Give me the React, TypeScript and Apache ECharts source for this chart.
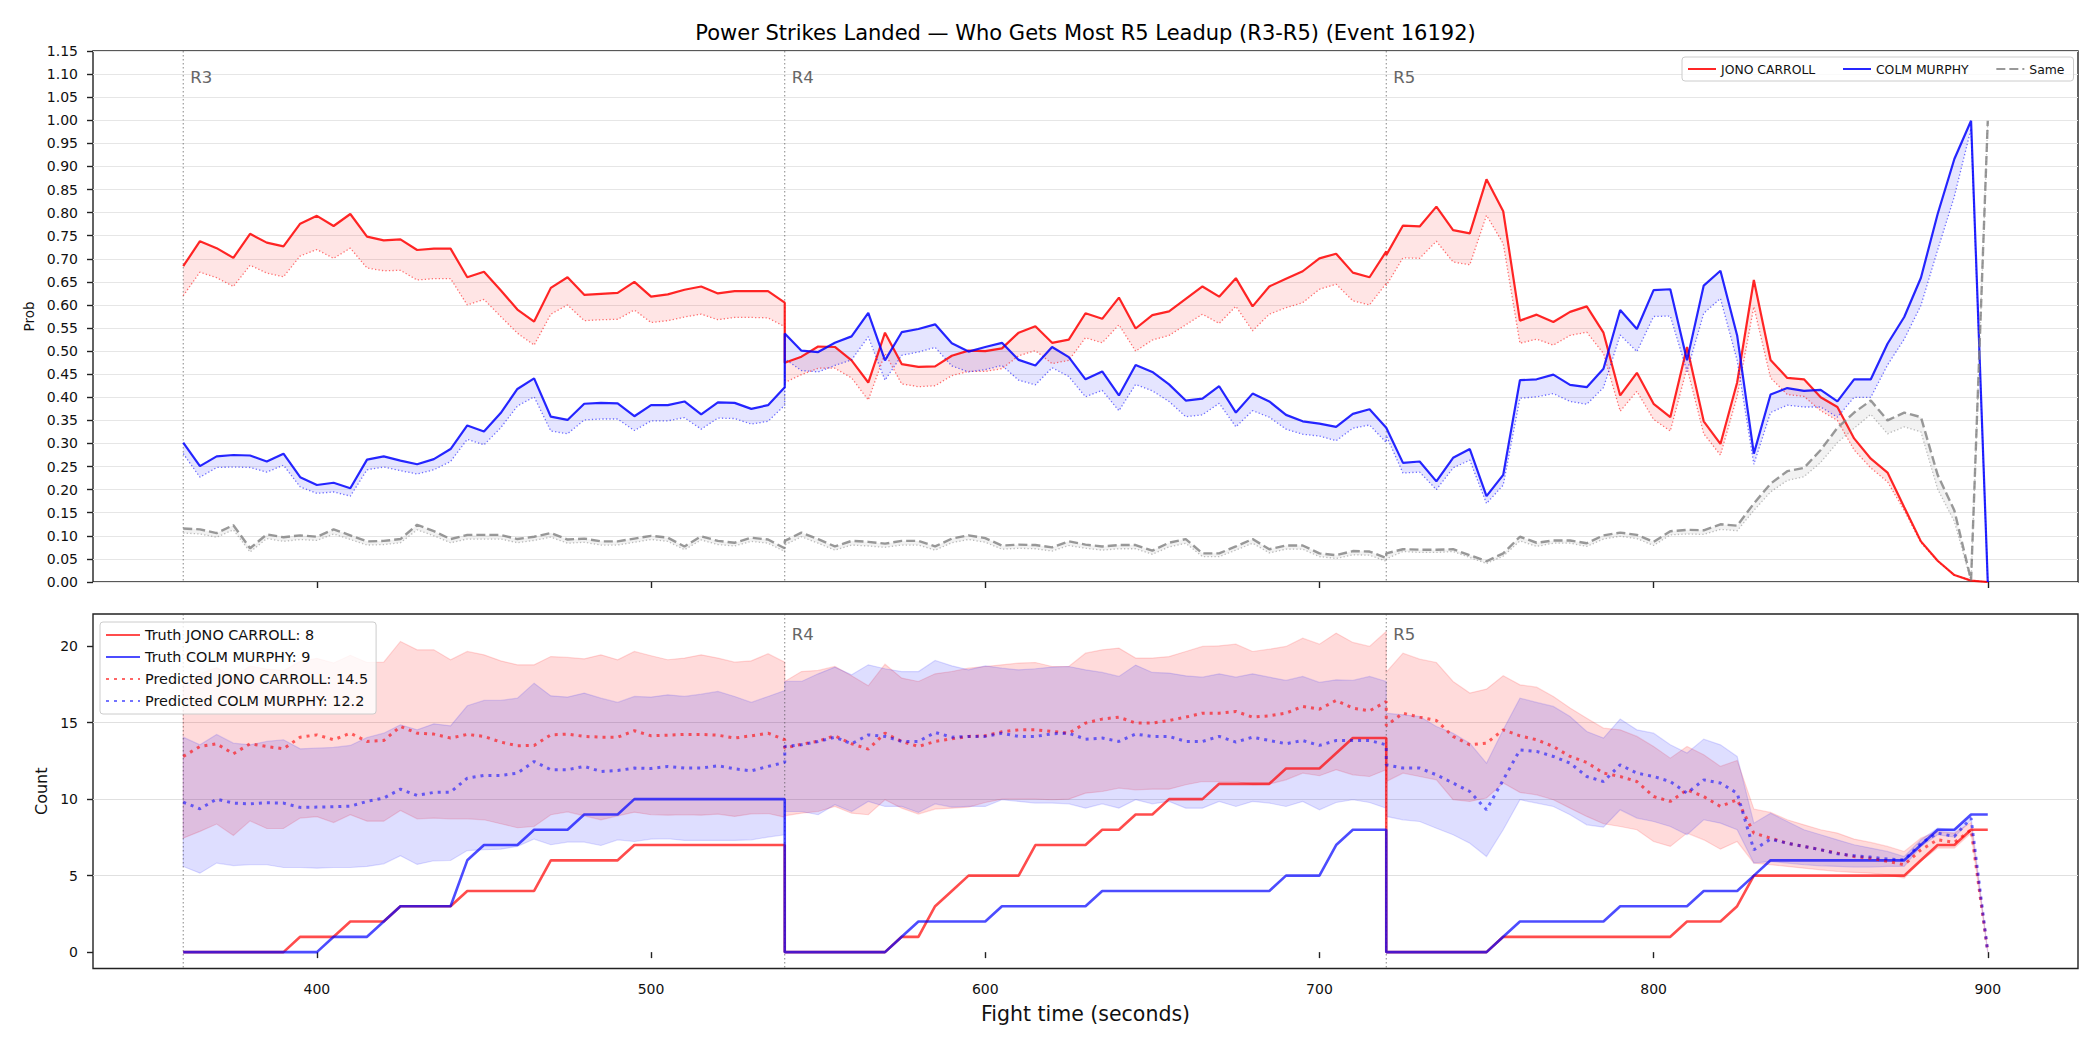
import React, { useEffect, useRef } from "react";
import * as echarts from "echarts";

const FONT = "DejaVu Sans";
const TITLE = "Power Strikes Landed — Who Gets Most R5 Leadup (R3-R5) (Event 16192)";
const FIGHTER_A = "JONO CARROLL";
const FIGHTER_B = "COLM MURPHY";
const SAME_LABEL = "Same";

const ROUND_STARTS = [360, 540, 720];
const ROUND_LABELS = ["R3", "R4", "R5"];
const X_TICKS = [400, 500, 600, 700, 800, 900];
const Y_TOP_TICKS = [0, 0.05, 0.1, 0.15, 0.2, 0.25, 0.3, 0.35, 0.4, 0.45, 0.5, 0.55, 0.6, 0.65, 0.7, 0.75, 0.8, 0.85, 0.9, 0.95, 1.0, 1.05, 1.1, 1.15];
const Y_BOT_TICKS = [0, 5, 10, 15, 20];
const PRED_SUMMARY_A = 14.5;
const PRED_SUMMARY_B = 12.2;

const TIME_R3 = [360, 365, 370, 375, 380, 385, 390, 395, 400, 405, 410, 415, 420, 425, 430, 435, 440, 445, 450, 455, 460, 465, 470, 475, 480, 485, 490, 495, 500, 505, 510, 515, 520, 525, 530, 535, 540];
const TIME_R4 = [540, 545, 550, 555, 560, 565, 570, 575, 580, 585, 590, 595, 600, 605, 610, 615, 620, 625, 630, 635, 640, 645, 650, 655, 660, 665, 670, 675, 680, 685, 690, 695, 700, 705, 710, 715, 720];
const TIME_R5 = [720, 725, 730, 735, 740, 745, 750, 755, 760, 765, 770, 775, 780, 785, 790, 795, 800, 805, 810, 815, 820, 825, 830, 835, 840, 845, 850, 855, 860, 865, 870, 875, 880, 885, 890, 895, 900];

// ---- Top panel: probabilities (solid) and lower dotted estimates ----
const P_A_R3 = [0.684, 0.738, 0.723, 0.702, 0.754, 0.735, 0.727, 0.776, 0.793, 0.771, 0.797, 0.748, 0.740, 0.742, 0.719, 0.722, 0.722, 0.660, 0.672, 0.632, 0.590, 0.564, 0.637, 0.660, 0.622, 0.624, 0.626, 0.650, 0.618, 0.623, 0.633, 0.640, 0.625, 0.630, 0.630, 0.630, 0.605];
const PL_A_R3 = [0.620, 0.671, 0.659, 0.640, 0.686, 0.669, 0.661, 0.706, 0.720, 0.701, 0.723, 0.680, 0.674, 0.675, 0.654, 0.657, 0.657, 0.600, 0.612, 0.575, 0.539, 0.513, 0.580, 0.600, 0.566, 0.568, 0.569, 0.589, 0.562, 0.566, 0.574, 0.580, 0.568, 0.573, 0.573, 0.572, 0.553];
const P_B_R3 = [0.302, 0.251, 0.272, 0.275, 0.274, 0.261, 0.278, 0.227, 0.210, 0.215, 0.203, 0.265, 0.272, 0.263, 0.255, 0.266, 0.288, 0.339, 0.326, 0.366, 0.418, 0.441, 0.358, 0.351, 0.386, 0.388, 0.387, 0.359, 0.383, 0.383, 0.391, 0.363, 0.389, 0.388, 0.375, 0.383, 0.422];
const PL_B_R3 = [0.278, 0.227, 0.248, 0.249, 0.248, 0.238, 0.253, 0.206, 0.192, 0.195, 0.186, 0.243, 0.249, 0.241, 0.234, 0.243, 0.261, 0.309, 0.297, 0.334, 0.381, 0.401, 0.327, 0.321, 0.351, 0.353, 0.353, 0.328, 0.349, 0.349, 0.356, 0.331, 0.355, 0.354, 0.342, 0.348, 0.383];
const P_S_R3 = [0.116, 0.114, 0.106, 0.123, 0.073, 0.103, 0.097, 0.101, 0.098, 0.114, 0.101, 0.088, 0.089, 0.093, 0.124, 0.110, 0.093, 0.102, 0.102, 0.102, 0.093, 0.098, 0.106, 0.092, 0.094, 0.088, 0.088, 0.094, 0.100, 0.096, 0.077, 0.099, 0.089, 0.085, 0.096, 0.092, 0.073];
const PL_S_R3 = [0.106, 0.104, 0.097, 0.113, 0.065, 0.094, 0.088, 0.092, 0.090, 0.104, 0.092, 0.080, 0.081, 0.085, 0.113, 0.100, 0.085, 0.093, 0.093, 0.093, 0.085, 0.090, 0.097, 0.084, 0.086, 0.080, 0.080, 0.086, 0.092, 0.088, 0.070, 0.091, 0.081, 0.078, 0.088, 0.084, 0.066];

const P_A_R4 = [0.475, 0.488, 0.510, 0.509, 0.480, 0.432, 0.540, 0.472, 0.466, 0.467, 0.490, 0.501, 0.500, 0.506, 0.540, 0.554, 0.518, 0.525, 0.582, 0.570, 0.616, 0.549, 0.578, 0.586, 0.613, 0.640, 0.618, 0.658, 0.597, 0.640, 0.657, 0.673, 0.701, 0.711, 0.670, 0.660, 0.716];
const PL_A_R4 = [0.432, 0.449, 0.463, 0.463, 0.442, 0.394, 0.495, 0.429, 0.423, 0.425, 0.447, 0.456, 0.456, 0.462, 0.490, 0.501, 0.473, 0.480, 0.529, 0.518, 0.557, 0.500, 0.524, 0.534, 0.557, 0.580, 0.560, 0.597, 0.544, 0.580, 0.594, 0.605, 0.634, 0.645, 0.609, 0.600, 0.647];
const P_B_R4 = [0.538, 0.501, 0.498, 0.518, 0.532, 0.583, 0.480, 0.541, 0.548, 0.558, 0.517, 0.499, 0.509, 0.518, 0.481, 0.469, 0.509, 0.487, 0.439, 0.456, 0.404, 0.470, 0.455, 0.428, 0.393, 0.397, 0.424, 0.367, 0.408, 0.391, 0.362, 0.348, 0.343, 0.336, 0.364, 0.374, 0.334];
const PL_B_R4 = [0.483, 0.458, 0.455, 0.469, 0.481, 0.531, 0.437, 0.491, 0.498, 0.508, 0.468, 0.455, 0.460, 0.469, 0.437, 0.427, 0.464, 0.445, 0.401, 0.415, 0.371, 0.428, 0.414, 0.391, 0.358, 0.362, 0.387, 0.336, 0.371, 0.357, 0.331, 0.320, 0.316, 0.306, 0.333, 0.340, 0.302];
const P_S_R4 = [0.089, 0.107, 0.093, 0.077, 0.089, 0.087, 0.083, 0.089, 0.089, 0.077, 0.094, 0.101, 0.095, 0.079, 0.081, 0.080, 0.075, 0.088, 0.081, 0.077, 0.080, 0.080, 0.068, 0.085, 0.093, 0.062, 0.062, 0.077, 0.093, 0.071, 0.079, 0.079, 0.062, 0.058, 0.067, 0.066, 0.052];
const PL_S_R4 = [0.080, 0.098, 0.084, 0.069, 0.080, 0.078, 0.075, 0.080, 0.080, 0.069, 0.085, 0.092, 0.086, 0.071, 0.073, 0.072, 0.067, 0.079, 0.073, 0.069, 0.072, 0.072, 0.060, 0.076, 0.084, 0.055, 0.055, 0.069, 0.084, 0.063, 0.071, 0.071, 0.055, 0.051, 0.059, 0.058, 0.045];

const P_A_R5 = [0.708, 0.772, 0.770, 0.813, 0.762, 0.755, 0.872, 0.803, 0.566, 0.579, 0.563, 0.585, 0.597, 0.540, 0.404, 0.453, 0.386, 0.357, 0.509, 0.348, 0.299, 0.432, 0.654, 0.481, 0.442, 0.439, 0.400, 0.379, 0.311, 0.267, 0.237, 0.162, 0.088, 0.046, 0.015, 0.003, 0.000];
const PL_A_R5 = [0.642, 0.702, 0.701, 0.738, 0.693, 0.687, 0.794, 0.733, 0.517, 0.526, 0.513, 0.534, 0.541, 0.495, 0.370, 0.413, 0.352, 0.327, 0.464, 0.321, 0.275, 0.402, 0.596, 0.442, 0.406, 0.402, 0.371, 0.350, 0.286, 0.247, 0.217, 0.155, 0.085, 0.045, 0.015, 0.003, 0.000];
const P_B_R5 = [0.334, 0.258, 0.261, 0.218, 0.269, 0.288, 0.186, 0.232, 0.437, 0.439, 0.449, 0.427, 0.422, 0.462, 0.589, 0.548, 0.632, 0.634, 0.480, 0.642, 0.674, 0.534, 0.278, 0.406, 0.420, 0.414, 0.416, 0.391, 0.439, 0.439, 0.516, 0.574, 0.659, 0.797, 0.916, 0.999, 0.000];
const PL_B_R5 = [0.317, 0.236, 0.238, 0.200, 0.247, 0.264, 0.170, 0.210, 0.398, 0.401, 0.408, 0.391, 0.385, 0.421, 0.535, 0.499, 0.575, 0.576, 0.456, 0.582, 0.614, 0.480, 0.255, 0.367, 0.383, 0.379, 0.379, 0.357, 0.400, 0.400, 0.470, 0.526, 0.599, 0.719, 0.835, 0.982, 0.000];
const P_S_R5 = [0.062, 0.071, 0.070, 0.070, 0.071, 0.058, 0.045, 0.062, 0.098, 0.085, 0.090, 0.090, 0.084, 0.101, 0.107, 0.102, 0.087, 0.110, 0.113, 0.112, 0.125, 0.122, 0.170, 0.213, 0.240, 0.247, 0.286, 0.334, 0.367, 0.393, 0.350, 0.367, 0.357, 0.232, 0.155, 0.004, 0.999];
const PL_S_R5 = [0.050, 0.066, 0.064, 0.064, 0.066, 0.053, 0.040, 0.056, 0.089, 0.077, 0.084, 0.084, 0.077, 0.093, 0.099, 0.094, 0.079, 0.102, 0.104, 0.103, 0.114, 0.111, 0.155, 0.195, 0.220, 0.228, 0.259, 0.302, 0.333, 0.363, 0.321, 0.336, 0.325, 0.201, 0.131, 0.002, 0.999];

// ---- Bottom panel: counts ----
const TRUTH_A_R3 = [0, 0, 0, 0, 0, 0, 0, 1, 1, 1, 2, 2, 2, 3, 3, 3, 3, 4, 4, 4, 4, 4, 6, 6, 6, 6, 6, 7, 7, 7, 7, 7, 7, 7, 7, 7, 7];
const TRUTH_B_R3 = [0, 0, 0, 0, 0, 0, 0, 0, 0, 1, 1, 1, 2, 3, 3, 3, 3, 6, 7, 7, 7, 8, 8, 8, 9, 9, 9, 10, 10, 10, 10, 10, 10, 10, 10, 10, 10];
const TRUTH_A_R4 = [0, 0, 0, 0, 0, 0, 0, 1, 1, 3, 4, 5, 5, 5, 5, 7, 7, 7, 7, 8, 8, 9, 9, 10, 10, 10, 11, 11, 11, 11, 12, 12, 12, 13, 14, 14, 14];
const TRUTH_B_R4 = [0, 0, 0, 0, 0, 0, 0, 1, 2, 2, 2, 2, 2, 3, 3, 3, 3, 3, 3, 4, 4, 4, 4, 4, 4, 4, 4, 4, 4, 4, 5, 5, 5, 7, 8, 8, 8];
const TRUTH_A_R5 = [0, 0, 0, 0, 0, 0, 0, 1, 1, 1, 1, 1, 1, 1, 1, 1, 1, 1, 2, 2, 2, 3, 5, 5, 5, 5, 5, 5, 5, 5, 5, 5, 6, 7, 7, 8, 8];
const TRUTH_B_R5 = [0, 0, 0, 0, 0, 0, 0, 1, 2, 2, 2, 2, 2, 2, 3, 3, 3, 3, 3, 4, 4, 4, 5, 6, 6, 6, 6, 6, 6, 6, 6, 6, 7, 8, 8, 9, 9];

const PRED_A_R3 = [12.79, 13.44, 13.62, 12.96, 13.62, 13.44, 13.29, 14.05, 14.20, 13.88, 14.31, 13.77, 13.83, 14.75, 14.31, 14.25, 13.99, 14.23, 14.10, 13.73, 13.49, 13.51, 14.20, 14.25, 14.10, 14.05, 14.05, 14.47, 14.14, 14.18, 14.23, 14.23, 14.18, 13.99, 14.14, 14.31, 13.88];
const PRED_B_R3 = [9.80, 9.37, 10.00, 9.74, 9.69, 9.76, 9.74, 9.46, 9.48, 9.50, 9.54, 9.85, 10.07, 10.65, 10.24, 10.44, 10.46, 11.37, 11.55, 11.55, 11.70, 12.46, 11.92, 11.92, 12.14, 11.81, 11.87, 12.03, 12.00, 12.14, 12.03, 12.03, 12.18, 11.98, 11.85, 12.14, 12.40];
const HI_A_R3 = [17.6, 18.2, 18.6, 18.0, 18.7, 18.5, 18.4, 19.0, 19.2, 18.9, 19.4, 18.93, 18.95, 20.31, 19.76, 19.76, 19.11, 19.65, 19.43, 19.04, 18.78, 18.78, 19.32, 19.26, 19.17, 19.43, 19.11, 19.65, 19.37, 19.11, 19.22, 19.43, 19.22, 18.95, 19.04, 19.50, 18.95];
const LO_A_R3 = [7.45, 7.89, 8.37, 7.63, 8.58, 8.08, 8.08, 8.76, 8.85, 8.47, 8.98, 8.56, 8.56, 9.26, 8.71, 8.76, 8.71, 8.71, 8.65, 8.39, 8.13, 8.21, 8.98, 9.17, 8.91, 8.65, 8.91, 9.15, 8.98, 8.95, 8.98, 8.95, 9.02, 8.87, 9.04, 9.06, 8.82];
const HI_B_R3 = [14.05, 13.55, 14.23, 13.66, 13.55, 13.77, 13.88, 13.29, 13.33, 13.38, 13.51, 14.03, 14.31, 14.86, 14.53, 14.92, 14.79, 16.10, 16.45, 16.45, 16.60, 17.58, 16.75, 16.67, 16.93, 16.60, 16.32, 16.71, 16.67, 16.82, 16.71, 16.86, 17.04, 16.71, 16.32, 16.71, 17.10];
const LO_B_R3 = [5.60, 5.16, 5.82, 5.66, 5.71, 5.71, 5.53, 5.53, 5.49, 5.53, 5.53, 5.60, 5.77, 6.30, 5.73, 5.97, 5.99, 6.64, 6.69, 6.73, 6.91, 7.39, 7.02, 7.19, 7.19, 6.97, 7.34, 7.23, 7.39, 7.41, 7.30, 7.30, 7.30, 7.30, 7.34, 7.52, 7.67];

const PRED_A_R4 = [13.33, 13.59, 13.79, 14.14, 13.62, 13.27, 14.31, 13.77, 13.44, 13.77, 13.94, 14.10, 14.14, 14.40, 14.53, 14.53, 14.42, 14.31, 14.97, 15.23, 15.36, 14.97, 14.97, 15.14, 15.36, 15.62, 15.62, 15.73, 15.36, 15.45, 15.62, 16.06, 15.88, 16.45, 15.95, 15.77, 16.38];
const PRED_B_R4 = [13.44, 13.55, 13.77, 14.05, 13.62, 14.20, 14.10, 13.77, 13.77, 14.36, 14.05, 14.10, 14.10, 14.31, 14.10, 14.10, 14.27, 14.31, 13.92, 13.99, 13.77, 14.25, 14.10, 14.10, 13.77, 13.77, 14.10, 13.73, 14.05, 13.83, 13.62, 13.83, 13.51, 13.83, 13.83, 13.83, 13.55];
const HI_A_R4 = [17.69, 18.34, 18.41, 18.67, 18.06, 17.41, 18.82, 17.91, 17.69, 18.19, 18.34, 18.56, 18.67, 18.78, 18.89, 18.93, 18.67, 18.67, 19.54, 19.76, 19.87, 19.22, 19.22, 19.32, 19.65, 19.98, 20.02, 20.13, 19.65, 19.80, 19.98, 20.52, 20.13, 20.85, 20.24, 19.98, 20.96];
const LO_A_R4 = [8.91, 9.08, 9.19, 9.52, 9.08, 8.98, 9.96, 9.41, 9.02, 9.35, 9.41, 9.48, 9.78, 10.0, 10.0, 10.0, 9.96, 10.0, 10.39, 10.50, 10.72, 10.61, 10.65, 10.65, 10.94, 11.15, 11.15, 11.15, 10.94, 10.98, 11.26, 11.70, 11.53, 11.92, 11.59, 11.48, 11.92];
const HI_B_R4 = [17.69, 17.69, 18.19, 18.63, 18.13, 18.78, 18.52, 18.34, 18.34, 19.06, 18.71, 18.45, 18.71, 18.56, 18.45, 18.52, 18.63, 18.67, 18.45, 18.28, 18.02, 18.76, 18.28, 18.24, 18.06, 17.97, 18.19, 17.97, 18.19, 17.97, 17.76, 18.02, 17.63, 17.80, 17.76, 18.02, 17.69];
const LO_B_R4 = [9.19, 9.19, 8.98, 9.63, 9.19, 9.85, 9.52, 9.52, 9.13, 9.69, 9.48, 9.52, 9.52, 9.96, 9.85, 9.74, 9.74, 9.69, 9.41, 9.69, 9.41, 9.96, 9.69, 9.85, 9.41, 9.41, 9.85, 9.52, 9.85, 9.74, 9.52, 9.85, 9.30, 9.78, 9.96, 9.78, 9.41];

const PRED_A_R5 = [14.8, 15.62, 15.36, 15.14, 14.10, 13.55, 13.66, 14.53, 14.14, 13.88, 13.44, 12.79, 12.40, 11.70, 11.48, 11.15, 10.17, 9.85, 10.61, 10.17, 9.52, 9.96, 7.78, 7.45, 7.12, 6.91, 6.69, 6.47, 6.25, 6.14, 5.93, 5.71, 6.69, 7.34, 7.17, 8.00, 0];
const PRED_B_R5 = [12.24, 12.03, 12.03, 11.59, 11.05, 10.50, 9.30, 11.26, 13.22, 13.12, 12.79, 12.35, 11.48, 11.15, 12.24, 11.70, 11.48, 11.15, 10.39, 11.26, 11.05, 10.39, 6.69, 7.39, 7.12, 6.91, 6.69, 6.43, 6.30, 6.21, 6.08, 6.03, 7.12, 7.78, 7.56, 8.76, 0];
const HI_A_R5 = [18.3, 19.54, 19.15, 18.93, 17.69, 16.93, 17.19, 18.06, 17.47, 17.32, 16.71, 15.95, 15.29, 14.64, 14.53, 14.10, 13.44, 12.68, 13.44, 12.90, 12.14, 12.53, 9.35, 9.13, 8.65, 8.32, 8.00, 7.78, 7.39, 7.17, 6.91, 6.58, 7.45, 7.89, 7.78, 8.47, 0];
const LO_A_R5 = [11.15, 11.70, 11.48, 11.26, 9.96, 9.85, 10.07, 11.05, 10.44, 10.28, 9.96, 9.41, 8.87, 8.39, 8.21, 8.00, 7.23, 6.91, 7.78, 7.34, 6.73, 7.23, 5.82, 5.71, 5.60, 5.49, 5.38, 5.27, 5.21, 5.16, 5.05, 4.84, 5.93, 6.80, 6.80, 7.78, 0];
const HI_B_R5 = [15.62, 15.51, 15.40, 14.75, 14.31, 13.66, 12.35, 14.53, 16.60, 16.32, 16.06, 15.40, 14.42, 13.99, 15.23, 14.53, 14.31, 13.55, 13.01, 13.92, 13.55, 12.79, 8.43, 9.08, 8.54, 8.00, 7.67, 7.34, 7.02, 6.80, 6.58, 6.25, 7.34, 8.10, 8.00, 8.87, 0];
const LO_B_R5 = [8.87, 8.65, 8.54, 8.10, 7.67, 7.12, 6.25, 8.00, 9.96, 9.74, 9.52, 8.98, 8.32, 8.17, 9.30, 8.76, 8.54, 8.21, 7.67, 8.65, 8.43, 8.00, 5.82, 5.93, 5.82, 5.71, 5.64, 5.60, 5.56, 5.56, 5.60, 5.60, 6.91, 7.67, 7.52, 8.65, 0];

// ---- axis ranges ----
const X_MIN = 333;
const X_MAX = 927;
const TOP_Y_MIN = 0;
const TOP_Y_MAX = 1.15;
const BOT_Y_MIN = -1.07;
const BOT_Y_MAX = 22.1;

const join = (a: number[], b: number[], c: number[]) => [...a, ...b, ...c];
const TIME = join(TIME_R3, TIME_R4, TIME_R5);
const pairs = (ys: number[]) => TIME.map((x, i) => [x, ys[i]]);

function bandSeries(g: number, hi: number[], lo: number[], fill: string, stroke?: string) {
  return {
    type: "custom",
    xAxisIndex: g,
    yAxisIndex: g,
    silent: true,
    z: 1,
    data: [[TIME[0], lo[0]]],
    renderItem: (_params: any, api: any) => {
      const points: number[][] = [];
      for (let i = 0; i < TIME.length; i++) points.push(api.coord([TIME[i], hi[i]]));
      for (let i = TIME.length - 1; i >= 0; i--) points.push(api.coord([TIME[i], lo[i]]));
      return {
        type: "polygon",
        shape: { points },
        style: { fill, stroke: stroke || "none", lineWidth: stroke ? 1.2 : 0 },
      };
    },
  };
}

// showLabel: which round labels to draw in this panel (the bottom legend hides R3 in the reference)
function roundSeries(g: number, yMin: number, yMax: number, showLabel: boolean[]) {
  return {
    type: "custom",
    xAxisIndex: g,
    yAxisIndex: g,
    silent: true,
    z: 2,
    data: ROUND_STARTS.map((x) => [x, yMin]),
    renderItem: (params: any, api: any) => {
      const x = api.value(0);
      const top = api.coord([x, yMax]);
      const bot = api.coord([x, yMin]);
      const h = bot[1] - top[1];
      const children: any[] = [
        {
          type: "line",
          shape: { x1: top[0], y1: top[1], x2: bot[0], y2: bot[1] },
          style: { stroke: "rgba(70,70,70,0.65)", lineWidth: 1, lineDash: [1.5, 2.5] },
        },
      ];
      if (showLabel[params.dataIndex]) {
        children.push({
          type: "text",
          x: top[0] + 7,
          y: top[1] + h * 0.032 + 1,
          style: {
            text: ROUND_LABELS[params.dataIndex],
            fill: "#666666",
            fontSize: 16.5,
            fontFamily: FONT,
            align: "left",
            verticalAlign: "top",
          },
        });
      }
      return { type: "group", children };
    },
  };
}

function lineSeries(g: number, name: string, ys: number[], color: string, width: number, type: any, z = 3) {
  return {
    type: "line",
    name,
    xAxisIndex: g,
    yAxisIndex: g,
    data: pairs(ys),
    symbol: "none",
    showSymbol: false,
    silent: true,
    z,
    itemStyle: { color },
    lineStyle: { color, width, type, cap: "butt" },
  };
}

function buildOption() {
  const P_A = join(P_A_R3, P_A_R4, P_A_R5);
  const PL_A = join(PL_A_R3, PL_A_R4, PL_A_R5);
  const P_B = join(P_B_R3, P_B_R4, P_B_R5);
  const PL_B = join(PL_B_R3, PL_B_R4, PL_B_R5);
  const P_S = join(P_S_R3, P_S_R4, P_S_R5);
  const PL_S = join(PL_S_R3, PL_S_R4, PL_S_R5);
  const TR_A = join(TRUTH_A_R3, TRUTH_A_R4, TRUTH_A_R5);
  const TR_B = join(TRUTH_B_R3, TRUTH_B_R4, TRUTH_B_R5);
  const PR_A = join(PRED_A_R3, PRED_A_R4, PRED_A_R5);
  const PR_B = join(PRED_B_R3, PRED_B_R4, PRED_B_R5);
  const HI_A = join(HI_A_R3, HI_A_R4, HI_A_R5);
  const LO_A = join(LO_A_R3, LO_A_R4, LO_A_R5);
  const HI_B = join(HI_B_R3, HI_B_R4, HI_B_R5);
  const LO_B = join(LO_B_R3, LO_B_R4, LO_B_R5);

  const truthNameA = `Truth ${FIGHTER_A}: ${TR_A[TR_A.length - 1]}`;
  const truthNameB = `Truth ${FIGHTER_B}: ${TR_B[TR_B.length - 1]}`;
  const predNameA = `Predicted ${FIGHTER_A}: ${PRED_SUMMARY_A}`;
  const predNameB = `Predicted ${FIGHTER_B}: ${PRED_SUMMARY_B}`;

  const tickStyle = { color: "#222", width: 1.4 };
  const labelBase = { fontSize: 14, color: "#111", fontFamily: FONT };
  const gridBase = { show: true, borderColor: "#222", borderWidth: 1.4, backgroundColor: "transparent", containLabel: false, outerBoundsMode: "none" };

  return {
    animation: false,
    backgroundColor: "#ffffff",
    textStyle: { fontFamily: FONT },
    graphic: [
      {
        type: "text",
        x: 1085.5,
        y: 22,
        style: {
          text: TITLE,
          fontSize: 21,
          fontFamily: FONT,
          fill: "#000",
          align: "center",
          verticalAlign: "top",
          textAlign: "center",
          textVerticalAlign: "top",
        },
      },
    ],
    grid: [
      { ...gridBase, left: 93, top: 51, width: 1985, height: 531 },
      { ...gridBase, left: 93, top: 614, width: 1985, height: 354.5 },
    ],
    xAxis: [
      {
        gridIndex: 0,
        type: "value",
        min: X_MIN,
        max: X_MAX,
        axisLine: { show: false },
        axisTick: { show: true, length: 6, lineStyle: tickStyle, customValues: X_TICKS },
        axisLabel: { show: false },
        splitLine: { show: false },
      },
      {
        gridIndex: 1,
        type: "value",
        min: X_MIN,
        max: X_MAX,
        axisLine: { show: false },
        axisTick: { show: true, length: 6, lineStyle: tickStyle, customValues: X_TICKS },
        axisLabel: { ...labelBase, show: true, customValues: X_TICKS, margin: 13 },
        splitLine: { show: false },
        name: "Fight time (seconds)",
        nameLocation: "middle",
        nameGap: 35,
        nameTextStyle: { fontSize: 20.5, color: "#111", fontFamily: FONT },
      },
    ],
    yAxis: [
      {
        gridIndex: 0,
        type: "value",
        min: TOP_Y_MIN,
        max: TOP_Y_MAX,
        interval: 0.05,
        axisLine: { show: false },
        axisTick: { show: true, length: 6, lineStyle: tickStyle, customValues: Y_TOP_TICKS },
        axisLabel: { ...labelBase, customValues: Y_TOP_TICKS, margin: 15, formatter: (v: number) => v.toFixed(2) },
        splitLine: { show: true, lineStyle: { color: "#e6e6e6", width: 1 } },
        name: "Prob",
        nameLocation: "middle",
        nameGap: 55,
        nameTextStyle: { fontSize: 13.5, color: "#111", fontFamily: FONT },
      },
      {
        gridIndex: 1,
        type: "value",
        min: BOT_Y_MIN,
        max: BOT_Y_MAX,
        axisLine: { show: false },
        axisTick: { show: true, length: 6, lineStyle: tickStyle, customValues: Y_BOT_TICKS },
        axisLabel: { ...labelBase, customValues: Y_BOT_TICKS, margin: 15 },
        splitLine: { show: true, showMinLine: false, showMaxLine: false, lineStyle: { color: "#e0e0e0", width: 1 } },
        name: "Count",
        nameLocation: "middle",
        nameGap: 42,
        nameTextStyle: { fontSize: 16, color: "#111", fontFamily: FONT },
      },
    ],
    legend: [
      {
        data: [FIGHTER_A, FIGHTER_B, SAME_LABEL],
        orient: "horizontal",
        left: 1682,
        top: 57,
        itemWidth: 28,
        itemHeight: 12,
        itemGap: 26.7,
        padding: [6, 9, 6, 5],
        backgroundColor: "rgba(255,255,255,0.8)",
        borderColor: "#cccccc",
        borderWidth: 1,
        borderRadius: 3,
        itemStyle: { opacity: 0 },
        textStyle: { fontSize: 12.4, color: "#111", fontFamily: FONT },
        selectedMode: false,
      },
      {
        data: [truthNameA, truthNameB, predNameA, predNameB],
        orient: "vertical",
        left: 100,
        top: 622,
        itemWidth: 34,
        itemHeight: 14,
        itemGap: 8,
        padding: [6, 8, 6, 5],
        backgroundColor: "rgba(255,255,255,0.8)",
        borderColor: "#cccccc",
        borderWidth: 1,
        borderRadius: 3,
        itemStyle: { opacity: 0 },
        textStyle: { fontSize: 14.4, color: "#111", fontFamily: FONT },
        selectedMode: false,
      },
    ],
    series: [
      bandSeries(0, P_A, PL_A, "rgba(255,0,0,0.1)"),
      bandSeries(0, P_B, PL_B, "rgba(0,0,255,0.1)"),
      bandSeries(0, P_S, PL_S, "rgba(128,128,128,0.1)"),
      roundSeries(0, TOP_Y_MIN, TOP_Y_MAX, [true, true, true]),
      lineSeries(0, FIGHTER_A, P_A, "rgba(255,0,0,0.85)", 2.2, "solid"),
      lineSeries(0, FIGHTER_A + " (low)", PL_A, "rgba(255,0,0,0.55)", 1.3, [1.3, 2.2]),
      lineSeries(0, FIGHTER_B, P_B, "rgba(0,0,255,0.85)", 2.2, "solid"),
      lineSeries(0, FIGHTER_B + " (low)", PL_B, "rgba(0,0,255,0.55)", 1.3, [1.3, 2.2]),
      lineSeries(0, SAME_LABEL, P_S, "rgba(128,128,128,0.8)", 2.4, [9, 4]),
      lineSeries(0, SAME_LABEL + " (low)", PL_S, "rgba(128,128,128,0.5)", 1.3, [1.3, 2.2]),

      bandSeries(1, HI_A, LO_A, "rgba(255,0,0,0.14)", "rgba(255,0,0,0.14)"),
      bandSeries(1, HI_B, LO_B, "rgba(0,0,255,0.13)", "rgba(0,0,255,0.13)"),
      roundSeries(1, BOT_Y_MIN, BOT_Y_MAX, [false, true, true]),
      lineSeries(1, truthNameA, TR_A, "rgba(255,0,0,0.7)", 2.6, "solid"),
      lineSeries(1, truthNameB, TR_B, "rgba(0,0,255,0.7)", 2.6, "solid"),
      lineSeries(1, predNameA, PR_A, "rgba(255,0,0,0.6)", 3, [3, 5]),
      lineSeries(1, predNameB, PR_B, "rgba(0,0,255,0.55)", 3, [3, 5]),
    ],
  };
}

export default function App() {
  const ref = useRef<HTMLDivElement>(null);
  useEffect(() => {
    document.body.style.margin = "0";
    if (!ref.current) return;
    const chart = echarts.init(ref.current, null, { renderer: "svg" });
    chart.setOption(buildOption() as any);
    return () => chart.dispose();
  }, []);
  return <div ref={ref} style={{ width: 2100, height: 1050 }} />;
}
